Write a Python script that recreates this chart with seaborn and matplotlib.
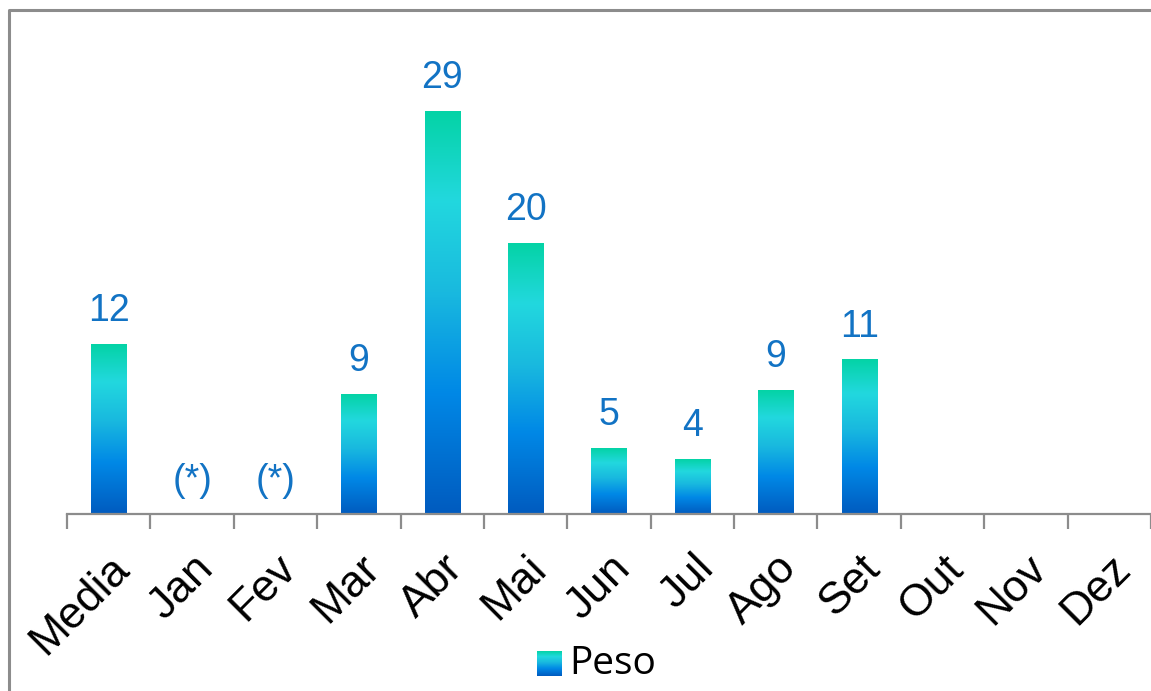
import numpy as np
import seaborn as sns
import matplotlib.pyplot as plt
from matplotlib.colors import LinearSegmentedColormap
from matplotlib.lines import Line2D

# Data
months = ["Media", "Jan", "Fev", "Mar", "Abr", "Mai", "Jun", "Jul",
          "Ago", "Set", "Out", "Nov", "Dez"]
peso = [12.2, 0, 0, 8.6, 29.0, 19.5, 4.7, 3.96, 8.9, 11.1, 0, 0, 0]
labels = ["12", "(*)", "(*)", "9", "29", "20", "5", "4", "9", "11", "", "", ""]

sns.set_style("white")
plt.rcParams['font.family'] = ['Liberation Sans', 'DejaVu Sans']

# bottom -> top gradient of each bar
grad = LinearSegmentedColormap.from_list(
    "peso", [(0.0, "#005bbf"), (0.3, "#0088e6"), (0.55, "#19b9df"),
             (0.78, "#22d8de"), (1.0, "#04d3a6")])

fig = plt.figure(figsize=(11.51, 6.91), dpi=100)
ax = fig.add_axes([67 / 1151, 177 / 691, 1084 / 1151, 486 / 691])

sns.barplot(x=months, y=peso, color="#0088e6", width=0.42, ax=ax)

g = np.linspace(0, 1, 256).reshape(-1, 1)
for p in ax.patches:
    x0, y0, w, h = p.get_x(), p.get_y(), p.get_width(), p.get_height()
    if h <= 0:
        continue
    ax.imshow(g, cmap=grad, origin="lower", aspect="auto",
              extent=[x0, x0 + w, y0, y0 + h], zorder=2)
    p.set_visible(False)

for i, (v, lab) in enumerate(zip(peso, labels)):
    if lab:
        ax.annotate(lab, (i, v), xytext=(0, 11), textcoords="offset points",
                    ha="center", va="bottom", fontsize=27, color="#1273c4")

ax.set_xlim(-0.5, len(months) - 0.5)
ax.set_ylim(0, 35)
ax.set_yticks([])
for s in ["top", "right", "left"]:
    ax.spines[s].set_visible(False)
ax.spines["bottom"].set_color("#8c8c8c")
ax.spines["bottom"].set_linewidth(1.6)

ax.set_xticks(np.arange(len(months)))
ax.set_xticklabels(months, rotation=45, ha="right", rotation_mode="anchor",
                   fontsize=32, color="black")
ax.tick_params(axis="x", which="major", length=0, pad=24)
ax.set_xticks(np.arange(len(months) + 1) - 0.5, minor=True)
ax.tick_params(axis="x", which="minor", bottom=True, length=11, width=1.6,
               color="#8c8c8c", direction="out")

# legend: gradient swatch + text
lax = fig.add_axes([537 / 1151, (691 - 676) / 691, 25 / 1151, 25 / 691])
lax.imshow(g, cmap=grad, origin="lower", aspect="auto")
lax.axis("off")
fig.text(569 / 1151, 1 - 664 / 691, "Peso", fontsize=28, va="center",
         ha="left", color="black", family=["Open Sans", "DejaVu Sans"])

# outer chart border (left and top edges)
bx, by = 8.5 / 1151, 1 - 9.5 / 691
fig.add_artist(Line2D([bx, bx, 1], [0, by, by], color="#8c8c8c",
                      linewidth=2.2, transform=fig.transFigure))

fig.savefig("out.png", dpi=100)
